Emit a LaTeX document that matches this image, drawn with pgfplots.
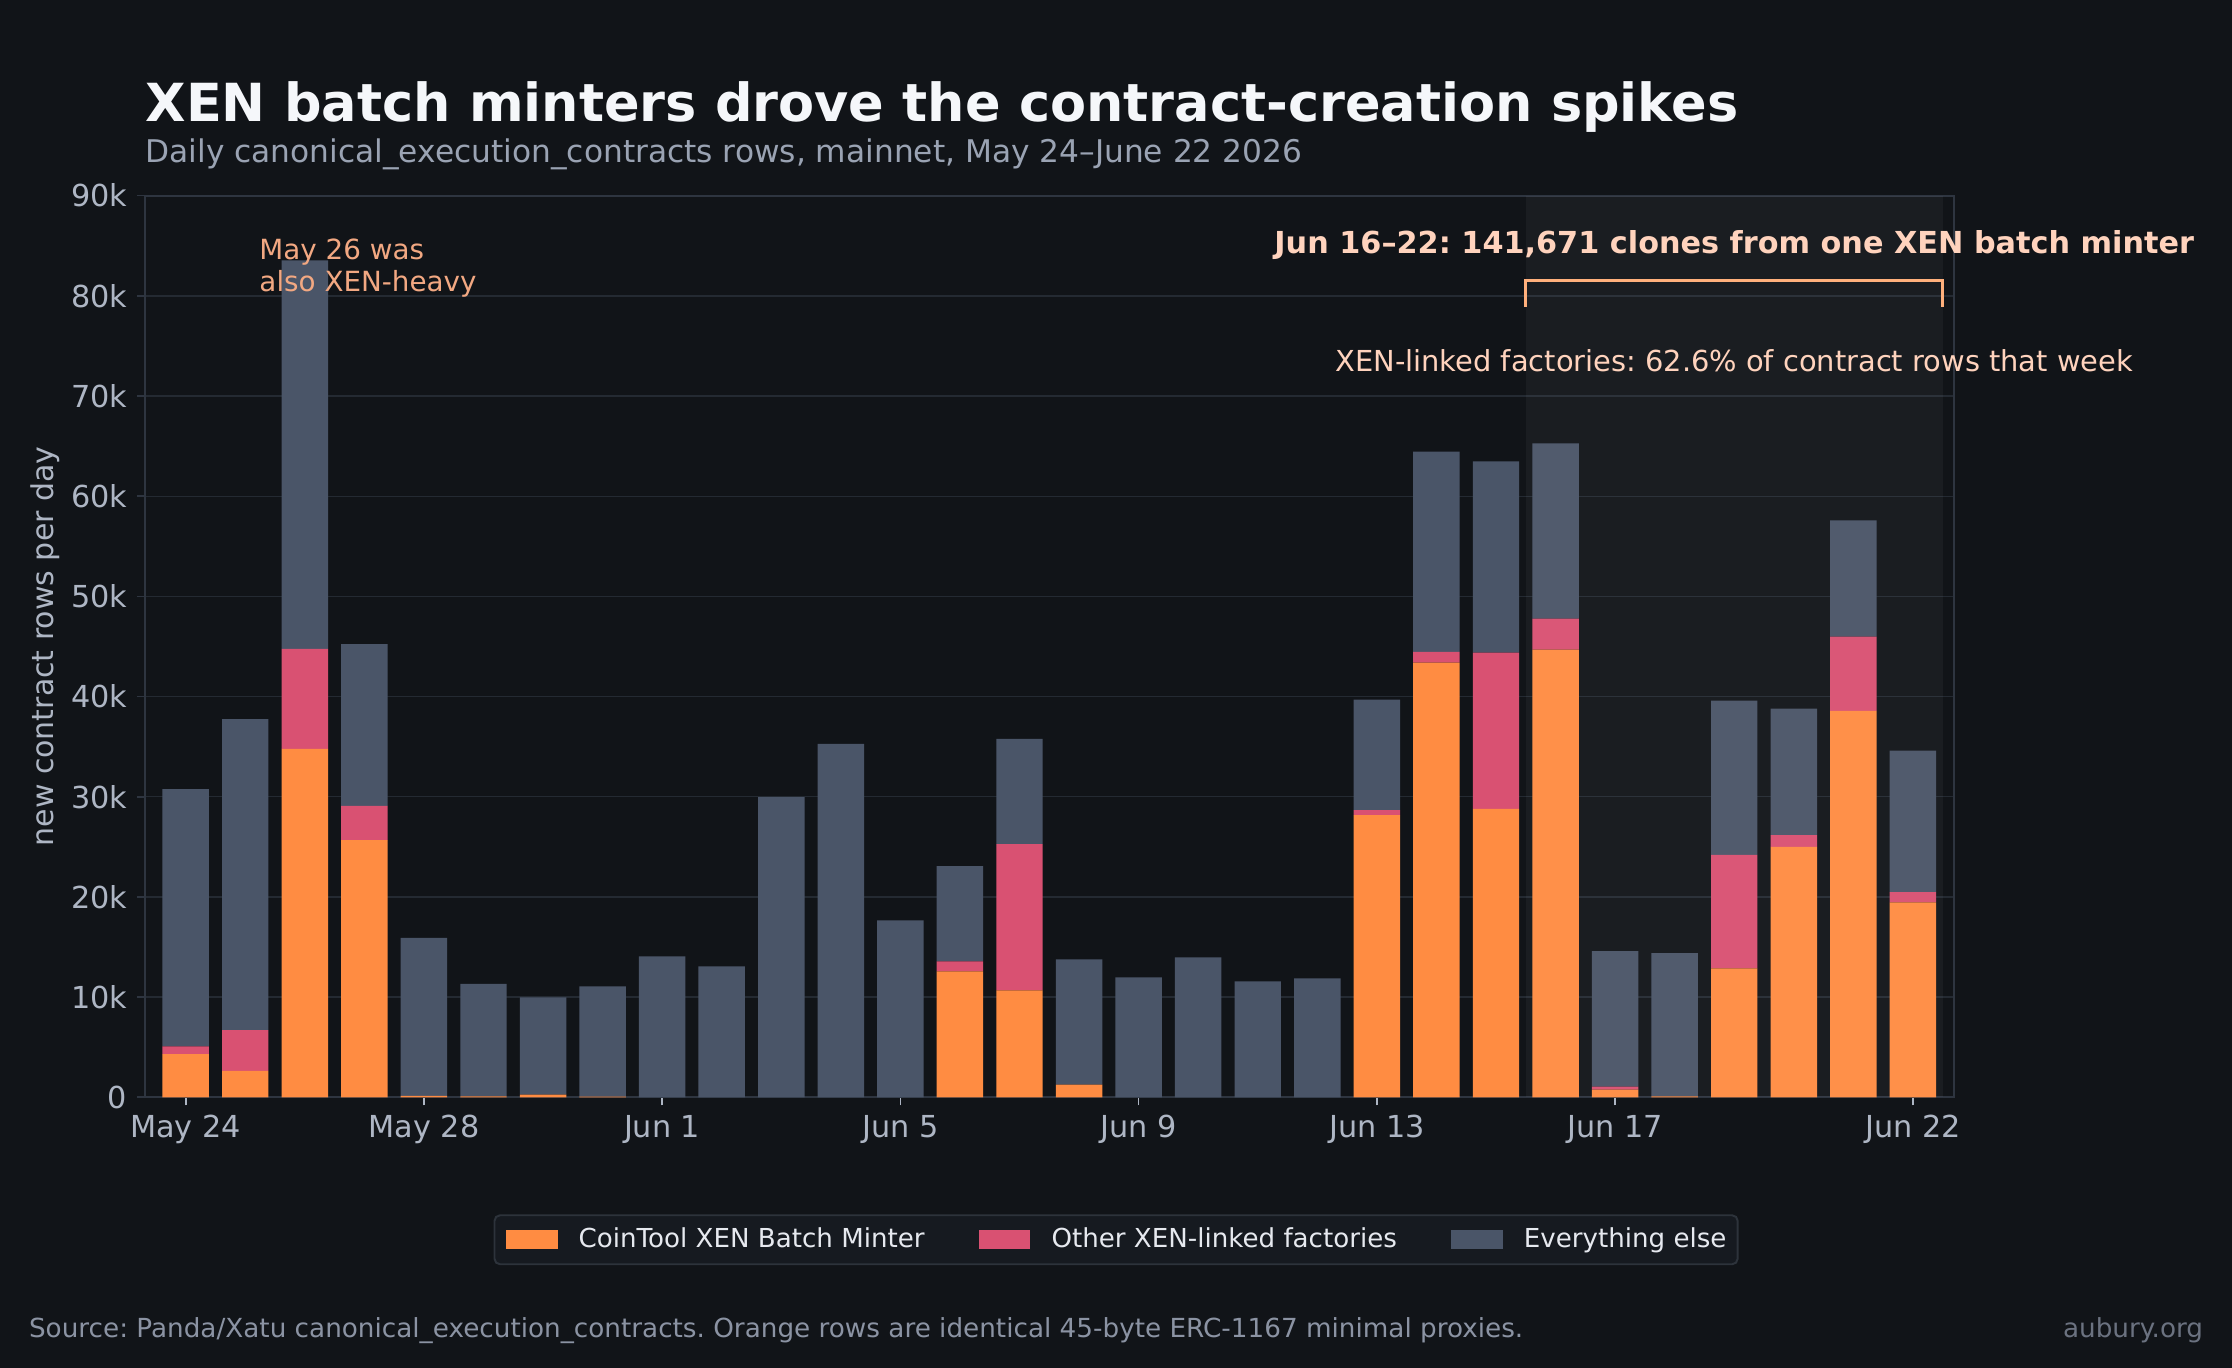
\documentclass[border=0pt]{standalone}
\usepackage{fontspec}
\setmainfont{DejaVu Sans}
\usepackage{pgfplots}
\pgfplotsset{compat=1.18}
\frenchspacing
\definecolor{bg}{HTML}{111418}
\definecolor{titlec}{HTML}{F5F7FA}
\definecolor{subc}{HTML}{9AA3B3}
\definecolor{tickc}{HTML}{AEB6C4}
\definecolor{gridc}{HTML}{242A32}
\definecolor{spinec}{HTML}{2E3540}
\definecolor{orangec}{HTML}{FF8C42}
\definecolor{pinkc}{HTML}{D95172}
\definecolor{grayc}{HTML}{4A5568}
\definecolor{annA}{HTML}{FFD3BD}
\definecolor{annB}{HTML}{F2A882}
\definecolor{brk}{HTML}{FFB07C}
\definecolor{legbg}{HTML}{161A20}
\definecolor{legedge}{HTML}{2D333B}
\definecolor{legtext}{HTML}{E6E9EF}
\definecolor{srcc}{HTML}{8B93A3}
\definecolor{sitec}{HTML}{6B7280}
\pgfplotsset{
  mylegend/.style={legend image code/.code={\fill[##1, sharp corners] (0pt,-3.4pt) rectangle (18.7pt,3.4pt);}}
}
\begin{document}
\begin{tikzpicture}
\fill[bg] (0,0) rectangle (803.52pt,492.48pt);
\begin{axis}[
  at={(52.2pt,97.45pt)}, anchor=south west,
  scale only axis, width=651.24pt, height=324.6pt,
  xmin=-0.683, xmax=29.69, ymin=0, ymax=90000,
  ybar stacked, bar width=0.78,
  clip=false, scaled y ticks=false,
  axis background/.style={fill=bg},
  axis line style={color=spinec, line width=0.7pt},
  ymajorgrids, grid style={color=gridc, line width=0.5pt},
  xtick={0,4,8,12,16,20,24,29},
  xticklabels={May 24,May 28,Jun 1,Jun 5,Jun 9,Jun 13,Jun 17,Jun 22},
  ytick={0,10000,20000,30000,40000,50000,60000,70000,80000,90000},
  yticklabels={0,10k,20k,30k,40k,50k,60k,70k,80k,90k},
  tick align=outside, major tick length=2.9pt,
  xtick pos=lower, ytick pos=left,
  xtick style={color=tickc, line width=0.6pt},
  ytick style={color=spinec, line width=0.6pt},
  tick label style={font=\fontsize{10.9}{12}\selectfont, text=tickc},
  ylabel={new contract rows per day},
  ylabel style={at={(axis description cs:-0.0553,0.5)}, anchor=center, font=\fontsize{10.8}{12}\selectfont, text=tickc},
  legend columns=3,
  legend style={at={(0.5368,-0.158)}, anchor=center, fill=legbg, draw=legedge, line width=0.7pt,
    rounded corners=2pt, text=legtext, font=\fontsize{9.4}{11}\selectfont,
    nodes={inner sep=0pt},
    /tikz/every odd column/.append style={column sep=7.6pt},
    /tikz/every even column/.append style={column sep=19.4pt},
    inner xsep=4pt, inner ysep=4.5pt},
]
\addplot[fill=orangec, draw=none, mylegend] coordinates {
(0,4310) (1,2630) (2,34770) (3,25670) (4,150) (5,100) (6,270) (7,70) (8,0) (9,0)
(10,0) (11,0) (12,0) (13,12570) (14,10670) (15,1270) (16,0) (17,0) (18,0) (19,0)
(20,28170) (21,43390) (22,28790) (23,44690) (24,760) (25,100) (26,12860) (27,25000) (28,38570) (29,19460)};
\addlegendentry{CoinTool XEN Batch Minter}
\addplot[fill=pinkc, draw=none, mylegend] coordinates {
(0,780) (1,4070) (2,9990) (3,3410) (4,0) (5,0) (6,0) (7,0) (8,0) (9,0)
(10,0) (11,0) (12,0) (13,1000) (14,14600) (15,0) (16,0) (17,0) (18,0) (19,0)
(20,490) (21,1070) (22,15590) (23,3080) (24,310) (25,0) (26,11340) (27,1160) (28,7410) (29,1030)};
\addlegendentry{Other XEN-linked factories}
\addplot[fill=grayc, draw=none, mylegend] coordinates {
(0,25670) (1,31060) (2,38780) (3,16160) (4,15770) (5,11210) (6,9700) (7,11000) (8,14070) (9,13070)
(10,29970) (11,35270) (12,17670) (13,9500) (14,10500) (15,12500) (16,11970) (17,13970) (18,11560) (19,11880)
(20,11030) (21,20000) (22,19100) (23,17500) (24,13530) (25,14280) (26,15400) (27,12630) (28,11610) (29,14110)};
\addlegendentry{Everything else}
\coordinate (sh1) at (axis cs:22.5,0);
\coordinate (sh2) at (axis cs:29.5,90000);
\coordinate (b1) at (axis cs:22.5,78870);
\coordinate (b2) at (axis cs:22.5,81570);
\coordinate (b3) at (axis cs:29.5,81570);
\coordinate (b4) at (axis cs:29.5,78870);
\coordinate (t1) at (axis cs:26,84240);
\coordinate (t2) at (axis cs:26,72420);
\coordinate (m1) at (axis cs:1.23,83670);
\coordinate (m2) at (axis cs:1.23,80480);
\end{axis}
\fill[white, opacity=0.04] (sh1) rectangle (sh2);
\draw[brk, line width=1.05pt] (b1) -- (b2) -- (b3) -- (b4);
\node[anchor=base, text=annA, font=\bfseries\fontsize{10.9}{13}\selectfont, inner sep=0pt] at (t1) {Jun 16–22: 141,671 clones from one XEN batch minter};
\node[anchor=base, text=annA, font=\fontsize{10.4}{12}\selectfont, inner sep=0pt] at (t2) {XEN-linked factories: 62.6\% of contract rows that week};
\node[anchor=base west, text=annB, font=\fontsize{10}{12}\selectfont, inner sep=0pt] at (m1) {May 26 was};
\node[anchor=base west, text=annB, font=\fontsize{10}{12}\selectfont, inner sep=0pt] at (m2) {also XEN-heavy};
\begin{scope}[x=0.36pt,y=0.36pt]
\node[anchor=base west, inner sep=0pt, text=titlec, font=\bfseries\fontsize{18.9}{23}\selectfont] at (145,1246) {XEN batch minters drove the contract-creation spikes};
\node[anchor=base west, inner sep=0pt, text=subc, font=\fontsize{11.25}{13}\selectfont] at (145,1205) {Daily canonical\_execution\_contracts rows, mainnet, May 24–June 22 2026};
\node[anchor=base west, inner sep=0pt, text=srcc, font=\fontsize{9.45}{11}\selectfont] at (28.5,30) {Source: Panda/Xatu canonical\_execution\_contracts. Orange rows are identical 45-byte ERC-1167 minimal proxies.};
\node[anchor=base east, inner sep=0pt, text=sitec, font=\fontsize{9.45}{11}\selectfont] at (2203.6,30) {aubury.org};
\end{scope}
\end{tikzpicture}
\end{document}
